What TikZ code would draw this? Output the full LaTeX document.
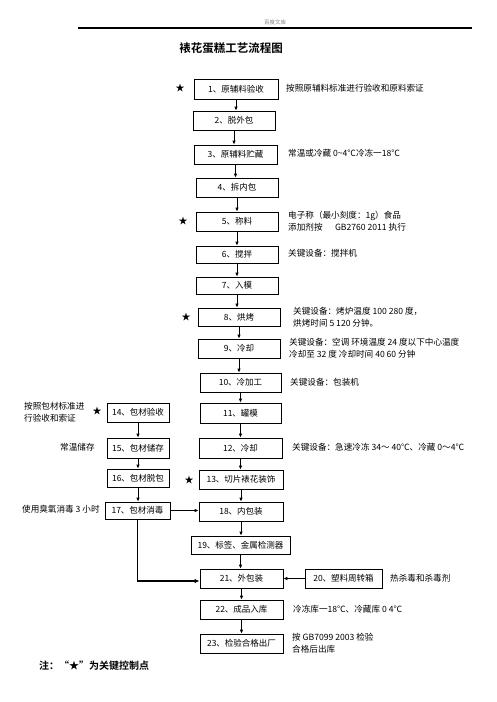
\documentclass[tikz,border=0pt]{standalone}
\usepackage{fontspec}
\setmainfont{Noto Sans CJK SC}[BoldFont={Noto Sans CJK SC Bold}]
\usetikzlibrary{arrows.meta}
\tikzset{
  box/.style={draw=black, line width=0.8pt, inner sep=0pt, font=\fontsize{8.5}{10}\selectfont},
  side/.style={anchor=west, inner sep=0pt, font=\fontsize{8.6}{11.5}\selectfont, align=left},
  starmark/.style={inner sep=0pt, font=\fontsize{9}{10}\selectfont},
  flow/.style={line width=0.8pt, -{Latex[length=4pt,width=3.6pt]}},
  thickflow/.style={line width=1.8pt, -{Latex[length=5pt,width=4.5pt]}},
  rulestyle/.style={line width=1.5pt, draw=black}
}
\newcommand{\bx}[6]{\node[box, minimum width=#3-#2, minimum height=#5-#4] (#1) at ({(#2+#3)/2},{(#4+#5)/2}) {#6};}
\begin{document}
\begin{tikzpicture}[x=1pt,y=-1pt]
\useasboundingbox (0,0) rectangle (496,702);
% header
\node[inner sep=0pt, text=gray, font=\fontsize{5.5}{6}\selectfont] (hdr) at (275,22) {百度文库};
\node[inner sep=0pt, font=\fontsize{11.5}{12}\selectfont\bfseries] (title) at (231,48) {裱花蛋糕工艺流程图};
% main column boxes
\bx{b1}{194}{278}{79}{99}{1、原辅料验收}
\bx{b2}{193}{275}{111}{130}{2、脱外包}
\bx{b3}{194}{277}{145}{164}{3、原辅料贮藏}
\bx{b4}{196}{278}{178}{197}{4、拆内包}
\bx{b5}{196}{278}{212}{231}{5、称料}
\bx{b6}{196}{278}{246}{263}{6、搅拌}
\bx{b7}{196}{278}{277}{294}{7、入模}
\bx{b8}{198}{280}{308}{326}{8、烘烤}
\bx{b9}{198}{280}{339}{358}{9、冷却}
\bx{b10}{200}{281}{373}{392}{10、冷加工}
\bx{b11}{200}{281}{403}{423}{11、罐模}
\bx{b12}{199}{282}{438}{458}{12、冷却}
\bx{b13}{199}{283}{470}{489}{13、切片裱花装饰}
\bx{b18}{199}{283}{502}{521}{18、内包装}
\bx{b19}{191}{290}{536}{554}{19、标签、金属检测器}
\bx{b21}{200}{283}{569}{588}{21、外包装}
\bx{b20}{305}{382}{569}{588}{20、塑料周转箱}
\bx{b22}{200}{283}{600}{619}{22、成品入库}
\bx{b23}{200}{283}{634}{653}{23、检验合格出厂}
% left column boxes
\bx{b14}{107}{169}{403}{422}{14、包材验收}
\bx{b15}{107}{169}{438}{458}{15、包材储存}
\bx{b16}{107}{169}{469}{487}{16、包材脱包}
\bx{b17}{105}{170}{502}{519}{17、包材消毒}
% stars
\node[starmark] (s1) at (180,88) {★};
\node[starmark] (s5) at (183,221) {★};
\node[starmark] (s8) at (186,317) {★};
\node[starmark] (s14) at (97,411) {★};
\node[starmark] (s13) at (189,480) {★};
% side notes
\node[side] (t1) at (286,88) {按照原辅料标准进行验收和原料索证};
\node[side] (t3) at (288,153) {常温或冷藏 0\char"007E 4℃冷冻一18℃};
\node[side] (t5) at (288,221) {电子称（最小刻度：1g）食品\\添加剂按\quad\ \ GB2760 2011 执行};
\node[side] (t6) at (288,253) {关键设备：搅拌机};
\node[side] (t8) at (293,317) {关键设备：烤炉温度 100 280 度，\\烘烤时间 5 120 分钟。};
\node[side] (t9) at (289,348) {关键设备：空调\ 环境温度 24 度以下中心温度\\冷却至 32 度\ 冷却时间 40 60 分钟};
\node[side] (t10) at (290,382) {关键设备：包装机};
\node[side] (t12) at (292,447) {关键设备：急速冷冻 34～ 40℃、冷藏 0～4℃};
\node[side] (t20) at (390,578) {热杀毒和杀毒剂};
\node[side] (t22) at (293,609) {冷冻库一18℃、冷藏库 0 4℃};
\node[side] (t23) at (292,643) {按 GB7099 2003 检验\\合格后出库};
\node[side] (t14) at (24,412) {按照包材标准进\\行验收和索证};
\node[side] (t15) at (60,447) {常温储存};
\node[side] (t17) at (22,509) {使用臭氧消毒 3 小时};
\node[anchor=west, inner sep=0pt, font=\fontsize{10}{12}\selectfont\bfseries] (note) at (39,666) {注：“★”为关键控制点};
% main flow arrows
\foreach \a/\b in {b1/b2,b2/b3,b3/b4,b4/b5,b5/b6,b6/b7,b7/b8,b8/b9,b9/b10,b10/b11,b11/b12,b12/b13,b13/b18,b18/b19,b19/b21,b21/b22,b22/b23,b14/b15,b15/b16,b16/b17}
  \draw[flow] (\a.south) -- (\a.south |- \b.north);
\draw[flow] (b17.east) -- (b17.east -| b18.west);
\draw[flow] (b20.west) -- (b21.east);
\draw[thickflow] (b17.south) |- ([yshift=-2.5pt]b21.west);
% header rule (drawn last)
\coordinate (hl) at (78,28);
\coordinate (hr) at (472,28);
\draw[rulestyle] (hl) -- (hr);
\end{tikzpicture}
\end{document}
